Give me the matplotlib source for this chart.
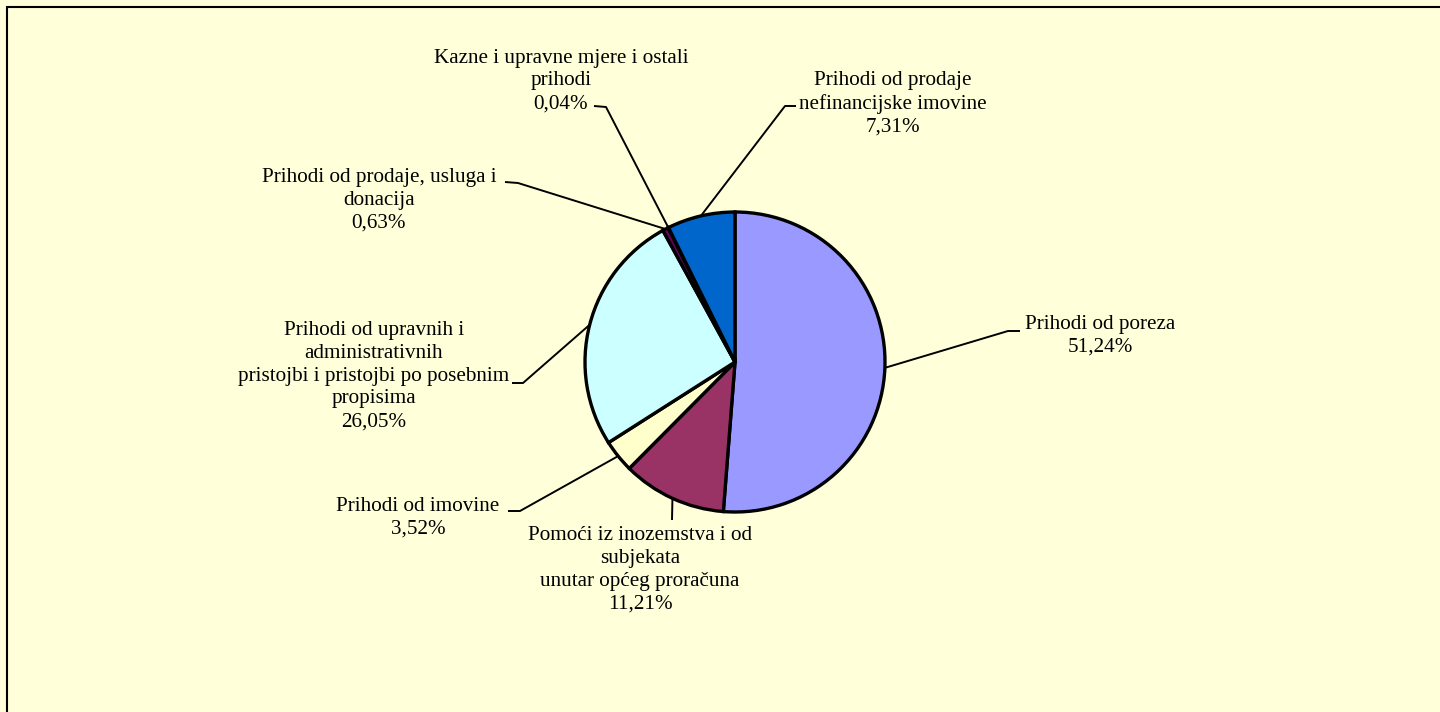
import matplotlib.pyplot as plt
from matplotlib.patches import Rectangle
import numpy as np

plt.rcParams['font.family'] = ['Liberation Serif', 'DejaVu Serif']

# data
categories = [
    'Prihodi od poreza',
    'Pomoći iz inozemstva i od\nsubjekata\nunutar općeg proračuna',
    'Prihodi od imovine',
    'Prihodi od upravnih i\nadministrativnih\npristojbi i pristojbi po posebnim\npropisima',
    'Prihodi od prodaje, usluga i\ndonacija',
    'Kazne i upravne mjere i ostali\nprihodi',
    'Prihodi od prodaje\nnefinancijske imovine',
]
shares = [51.24, 11.21, 3.52, 26.05, 0.63, 0.04, 7.31]
colors = ['#9999FF', '#993366', '#FFFFCC', '#CCFFFF', '#660066', '#FF8080', '#0066CC']

# layout (pixel coords, y from top)
W, H = 1440, 712
center = (735, 362)
radius = 150
label_pos = [(1100, 336), (640, 570), (418, 518), (374, 376), (379, 200), (561, 81), (893, 104)]
elbows = [(1008, 331), (672, 520), (520, 511), (523, 383), (518, 183), (606, 107), (785, 106)]
ends = [(1020, 331), None, (508, 511), (512, 383), (505, 182), (594, 106), (796, 106)]

bg = '#FFFFDA'
fig = plt.figure(figsize=(14.4, 7.12), dpi=100, facecolor=bg)
ax = fig.add_axes([0, 0, 1, 1])
ax.set_facecolor(bg)

def fy(y):
    return H - y

wedges, _ = ax.pie(shares, colors=colors, startangle=90, counterclock=False,
                   center=(center[0], fy(center[1])), radius=radius,
                   wedgeprops=dict(edgecolor='black', linewidth=2.4))

for w, lab, val, lp, el, en in zip(wedges, categories, shares, label_pos, elbows, ends):
    mid = np.deg2rad((w.theta1 + w.theta2) / 2)
    sx = center[0] + radius * np.cos(mid)
    sy = fy(center[1]) + radius * np.sin(mid)
    xs = [sx, el[0]]
    ys = [sy, fy(el[1])]
    if en is not None:
        xs.append(en[0])
        ys.append(fy(en[1]))
    ax.plot(xs, ys, color='black', lw=1.4, solid_capstyle='butt', zorder=3)
    txt = lab + '\n' + f'{val:.2f}'.replace('.', ',') + '%'
    ax.text(lp[0], fy(lp[1]), txt, ha='center', va='center', multialignment='center',
            fontsize=15.2, color='black', linespacing=1.28)

# chart frame
ax.add_patch(Rectangle((7, -20), W + 40, fy(7) + 20, facecolor='none',
                       edgecolor='black', lw=1.5, zorder=5, clip_on=False))

ax.set_xlim(0, W)
ax.set_ylim(0, H)
ax.set_aspect('equal')
ax.axis('off')

fig.savefig('out.png', dpi=100, facecolor=bg)
